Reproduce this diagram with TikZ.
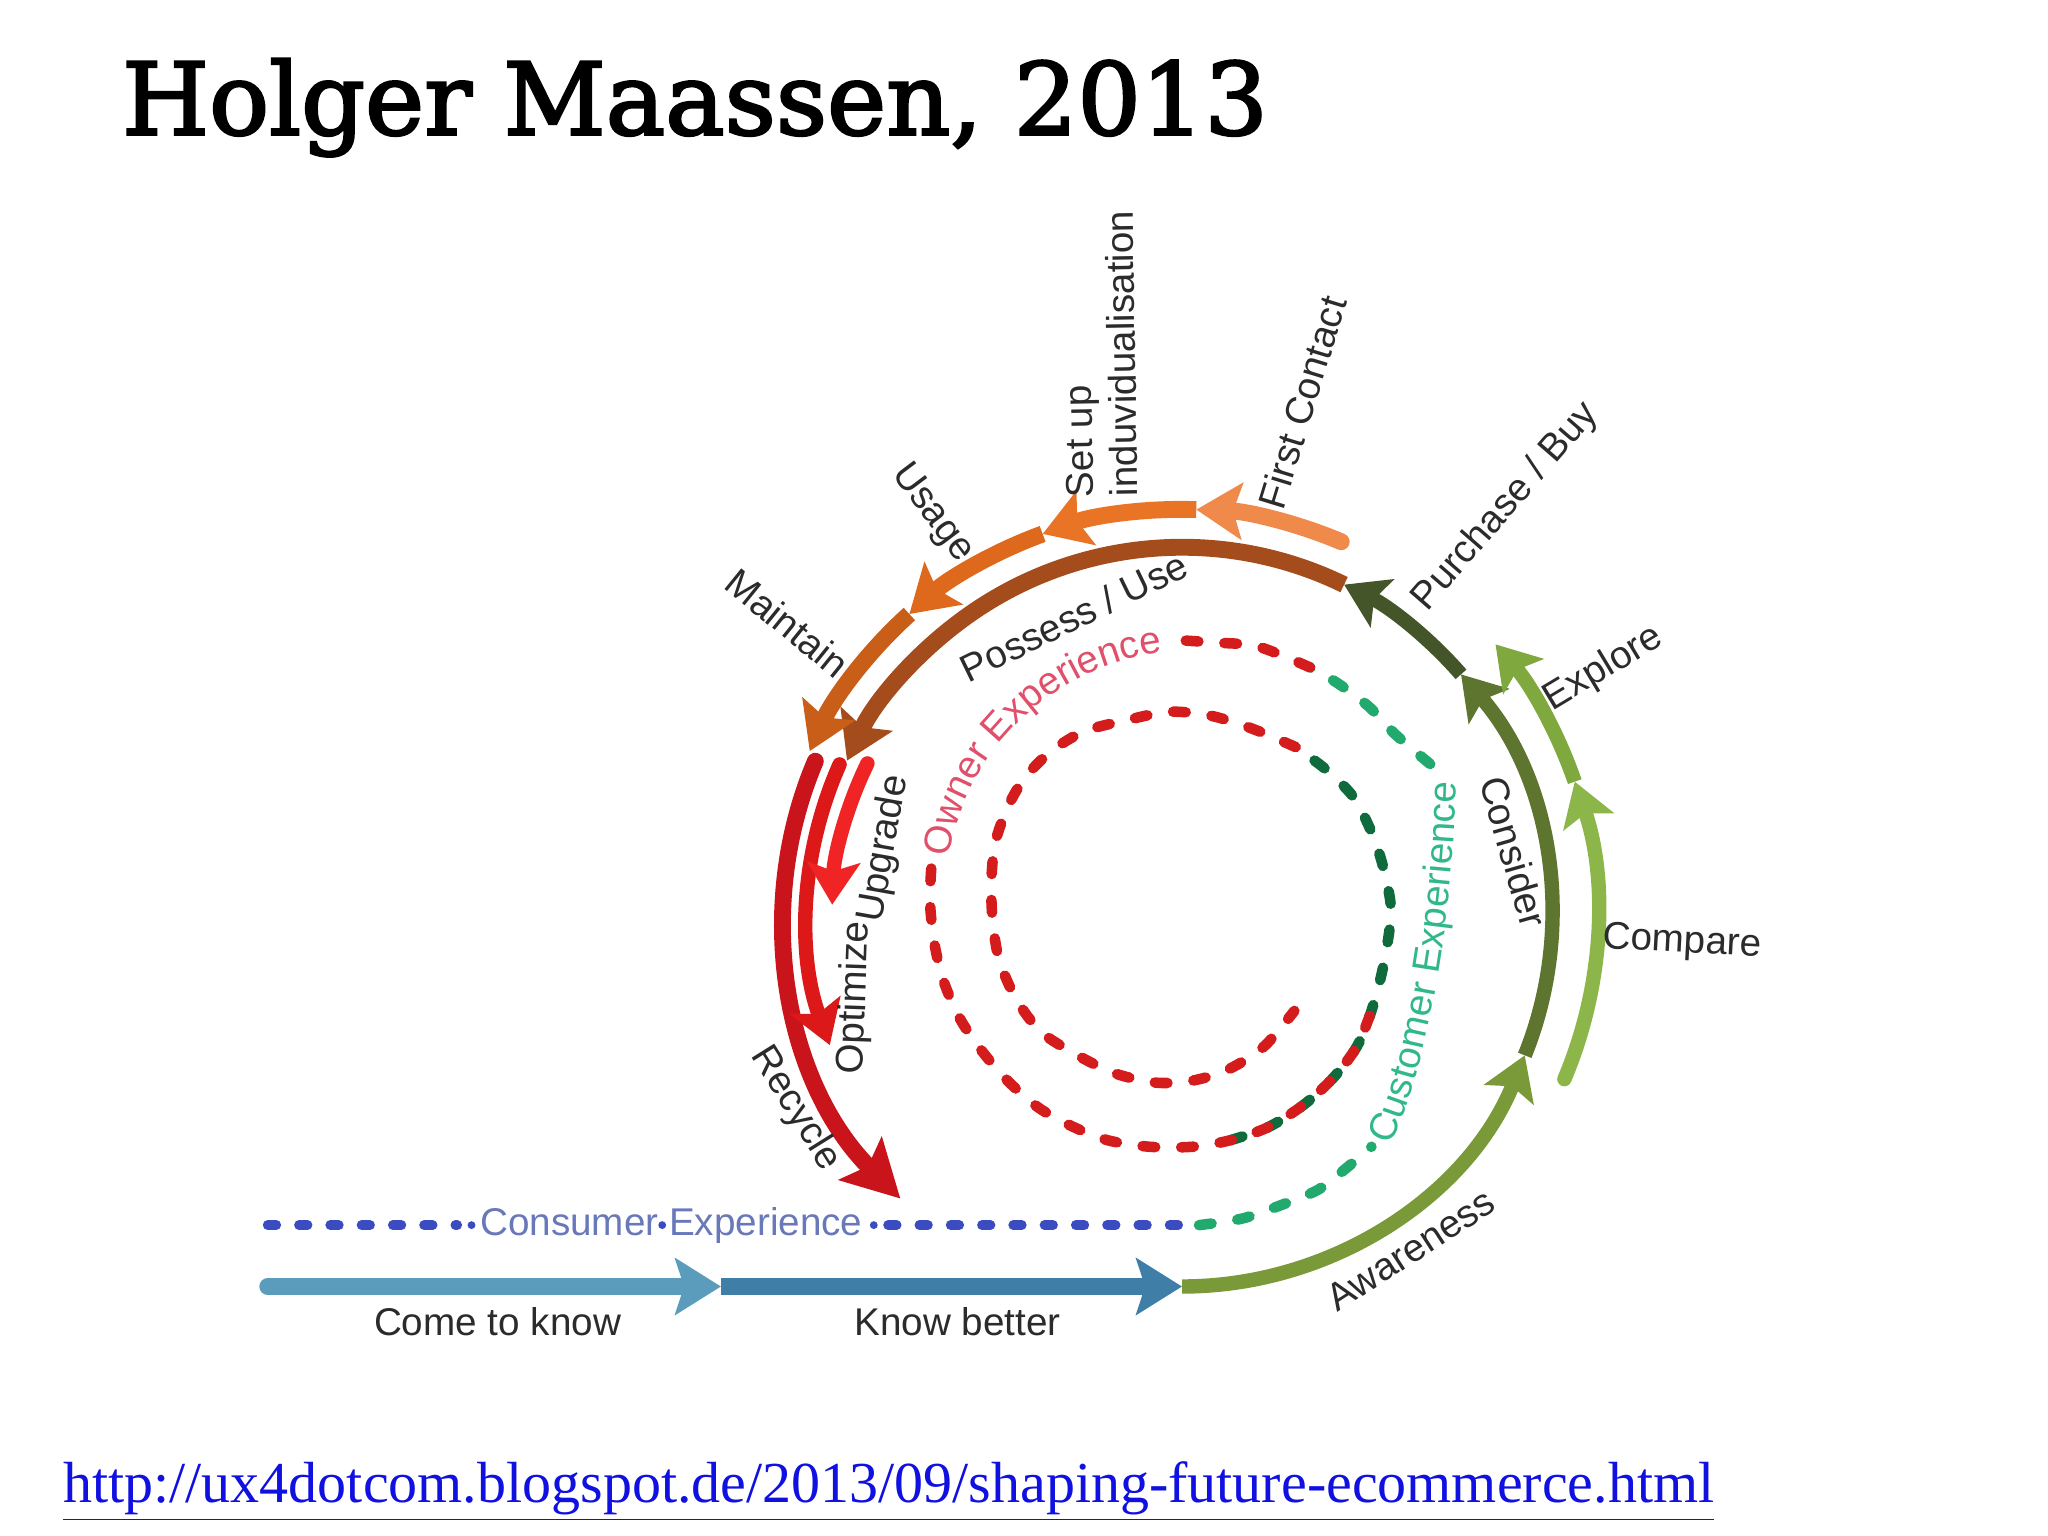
\documentclass[tikz,border=0pt]{standalone}
\usepackage{fontspec}
\setmainfont{Liberation Sans}
\newfontfamily\titlefont[FakeBold=2.5]{DejaVu Serif}
\newfontfamily\linkfont{Liberation Serif}
\usetikzlibrary{arrows.meta, decorations.text}

\definecolor{labelgray}{HTML}{2B2B2B}
\definecolor{awgreen}{HTML}{7A9A3A}
\definecolor{congreen}{HTML}{5E7530}
\definecolor{buygreen}{HTML}{45552A}
\definecolor{cmpgreen}{HTML}{8DB64A}
\definecolor{expgreen}{HTML}{7FA83E}
\definecolor{possbrown}{HTML}{A44C1C}
\definecolor{fcorange}{HTML}{F08A4A}
\definecolor{suorange}{HTML}{EA7426}
\definecolor{usorange}{HTML}{DE681C}
\definecolor{mtorange}{HTML}{C95E18}
\definecolor{recred}{HTML}{C8141A}
\definecolor{optred}{HTML}{DC1818}
\definecolor{upgred}{HTML}{F02424}
\definecolor{knowblue}{HTML}{5B9CBC}
\definecolor{betterblue}{HTML}{3F7EA6}
\definecolor{dashblue}{HTML}{3A4CC0}
\definecolor{consblue}{HTML}{6878B8}
\definecolor{custgreen}{HTML}{22AA6E}
\definecolor{custtext}{HTML}{30B88A}
\definecolor{innergreen}{HTML}{0F6A3C}
\definecolor{ownred}{HTML}{D41C1C}
\definecolor{owntext}{HTML}{E0506A}
\definecolor{linkblue}{HTML}{1010E0}

\begin{document}
\begin{tikzpicture}[x=0.013061cm, y=0.013061cm,
    lbl/.style={font=\fontsize{11}{12.6}\selectfont, text=labelgray, inner sep=0pt},
    band/.style={line width=4.1pt, -{Stealth[length=12pt, width=15pt, inset=2.5pt]}},
    wideband/.style={line width=4.8pt, -{Stealth[length=13pt, width=16pt, inset=2.5pt]}},
    spiral/.style={line width=3pt, line cap=round, dash pattern=on 3.6pt off 7.4pt}]

\useasboundingbox (0,0) rectangle (1568,1176);
\coordinate (c) at (905,474);

\node[anchor=base west, font=\titlefont\fontsize{28.4}{30}\selectfont] (title) at (84,1073) {Holger Maassen, 2013};
\node[anchor=base west, font=\linkfont\fontsize{16.5}{18}\selectfont, text=linkblue, inner sep=0pt] (link) at (48,26)
    {\underline{http://ux4dotcom.blogspot.de/2013/09/shaping-future-ecommerce.html}};

% consumer line
\draw[dashblue, line width=2.8pt, line cap=round, dash pattern=on 2.4pt off 6.5pt] (205,238) -- (350,238);
\draw[dashblue, line width=2.8pt, line cap=round, dash pattern=on 2.4pt off 6.5pt] (680,238) -- (918,238);
\node[lbl, text=consblue] (consumer) at (514,238) {Consumer Experience};
\fill[dashblue] (361,238) circle[radius=3] (507,238) circle[radius=3] (669,238) circle[radius=3];

% spiral
\draw[spiral, custgreen] plot[smooth] coordinates {(918,238) (951,243) (980,253) (1009,265) (1030,281) (1050,298)};
\path[decorate, decoration={text along path, text align=center,
    text={|\fontsize{11}{12}\selectfont\color{custtext}|Customer Experience}}]
    (1064,298) .. controls (1088,343) and (1112,456) .. (1115,578);
\draw[spiral, custgreen] plot[smooth] coordinates {(1095,591) (1068,614) (1048,635) (1024,653) (1003,665)};
\draw[spiral, ownred] plot[smooth] coordinates {(1003,665) (963,681) (930,684) (900,686)};
\path[decorate, decoration={text along path, text align=center,
    text={|\fontsize{11}{12}\selectfont\color{owntext}|Owner Experience}}]
    plot[domain=166:94, samples=40] ({901+(179+(166-\x)*0.26)*cos(\x)}, {479+(179+(166-\x)*0.26)*sin(\x)});
\draw[spiral, innergreen] plot[smooth] coordinates {(942,303) (971,313) (998,330) (1021,351) (1039,375) (1050,402)
    (1059,436) (1065,478) (1059,512) (1050,539) (1036,566) (1015,587) (992,604)};
\draw[spiral, ownred] plot[smooth] coordinates {(713,511) (712,486) (715,456) (722,426) (735,396) (752,371) (772,348)
    (795,328) (820,314) (848,303) (880,298) (913,298) (942,303) (971,313) (998,330) (1021,351) (1039,375) (1050,402)};
\draw[spiral, ownred] plot[smooth] coordinates {(992,604) (959,618) (927,628) (895,631) (860,624) (830,616) (805,601)
    (785,581) (772,559) (762,531) (759,501) (760,471) (765,441) (778,411) (797,386) (825,368) (854,354) (886,347)
    (915,349) (942,358) (968,375) (991,402)};

% bottom arrows
\draw[wideband, knowblue, line cap=round] (205,191) -- (552,191);
\draw[wideband, betterblue] (552,191) -- (905,191);
\node[lbl] (come) at (381,164) {Come to know};
\node[lbl] (better) at (733,164) {Know better};

% customer ring
\draw[band, awgreen] (c) ++(-90:283) arc[start angle=-90, end angle=-22, radius=283];
\draw[band, congreen] (c) ++(-22:283) arc[start angle=-22, end angle=41, radius=283];
\draw[band, buygreen] (c) ++(41:283) arc[start angle=41, end angle=64, radius=283];
\draw[band, cmpgreen, line cap=round] (c) ++(-23:318) arc[start angle=-23, end angle=19, radius=318];
\draw[band, expgreen] (c) ++(19:318) arc[start angle=19, end angle=41, radius=318];

% owner ring
\draw[wideband, possbrown] (c) ++(64:283) arc[start angle=64, end angle=155, radius=283];
\draw[wideband, fcorange, line cap=round] (c) ++(67:312) arc[start angle=67, end angle=88, radius=312];
\draw[wideband, suorange] (c) ++(88:312) arc[start angle=88, end angle=110, radius=312];
\draw[wideband, usorange] (c) ++(110:312) arc[start angle=110, end angle=132, radius=312];
\draw[wideband, mtorange] (c) ++(132:312) arc[start angle=132, end angle=156, radius=312];
\draw[wideband, recred, line cap=round, -{Stealth[length=16pt, width=17pt, inset=3pt]}]
    (c) ++(157:305) arc[start angle=157, end angle=225, radius=305];
\draw[band, optred, line cap=round] (c) ++(156:287) arc[start angle=156, end angle=200, radius=287];
\draw[band, upgred, line cap=round] (c) ++(154:268) arc[start angle=154, end angle=178, radius=268];

% labels
\node[lbl, rotate=33] (awareness) at (1080,219) {Awareness};
\node[lbl, rotate=-74] (consider) at (1159,524) {Consider};
\node[lbl, rotate=-3] (compare) at (1288,454) {Compare};
\node[lbl, rotate=31] (explore) at (1228,664) {Explore};
\node[lbl, rotate=49] (purchase) at (1153,788) {Purchase / Buy};
\node[lbl, rotate=73] (contact) at (997,868) {First Contact};
\node[lbl, rotate=91, anchor=west, align=left] (setup) at (844,795) {Set up\\induvidualisation};
\node[lbl, rotate=-53] (usage) at (714,783) {Usage};
\node[lbl, rotate=-39] (maintain) at (603,699) {Maintain};
\node[lbl, rotate=26] (possess) at (822,704) {Possess / Use};
\node[lbl, rotate=80] (upgrade) at (677,526) {Upgrade};
\node[lbl, rotate=88] (optimize) at (655,412) {Optimize};
\node[lbl, rotate=-58] (recycle) at (609,327) {Recycle};
\end{tikzpicture}
\end{document}
